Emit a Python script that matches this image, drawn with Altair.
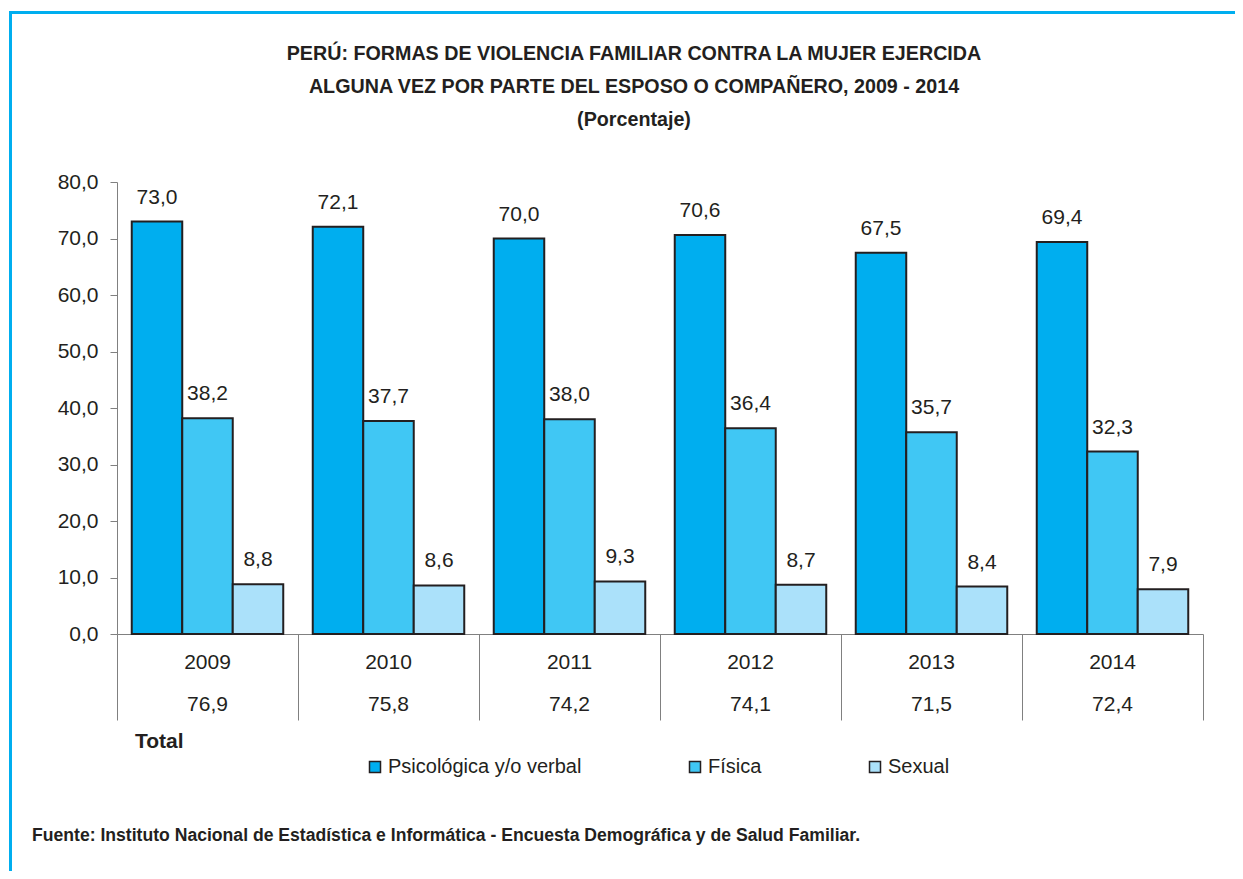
import altair as alt
import pandas as pd

# ---- data ----
years = ["2009", "2010", "2011", "2012", "2013", "2014"]
series = ["Psicológica y/o verbal", "Física", "Sexual"]
psicologica = [73.0, 72.1, 70.0, 70.6, 67.5, 69.4]
fisica = [38.2, 37.7, 38.0, 36.4, 35.7, 32.3]
sexual = [8.8, 8.6, 9.3, 8.7, 8.4, 7.9]
total = [76.9, 75.8, 74.2, 74.1, 71.5, 72.4]
colors = ["#00AEEF", "#40C7F4", "#ABE1FA"]
title_lines = [
    "PERÚ: FORMAS DE VIOLENCIA FAMILIAR CONTRA LA MUJER EJERCIDA",
    "ALGUNA VEZ POR PARTE DEL ESPOSO O COMPAÑERO, 2009 - 2014",
    "(Porcentaje)",
]
fuente = "Fuente: Instituto Nacional de Estadística e Informática - Encuesta Demográfica y de  Salud Familiar."


def fmt(v):
    return f"{v:.1f}".replace(".", ",")


rows = []
for s, vals in zip(series, [psicologica, fisica, sexual]):
    for yr, v in zip(years, vals):
        rows.append({"year": yr, "serie": s, "valor": v, "etiqueta": fmt(v)})
df = pd.DataFrame(rows)
tot = pd.DataFrame({"year": years, "total": [fmt(v) for v in total]})
dummy = pd.DataFrame({"k": [0]})

FONT = "Liberation Sans Narrow, Arial Narrow, Liberation Sans, Arial, sans-serif"
INK = "#231F20"
GRAY = "#808080"
W, H = 1086, 452
FS = 21

xscale = alt.Scale(domain=years, paddingInner=0, paddingOuter=0)
x = alt.X(
    "year:N", scale=xscale, sort=years,
    axis=alt.Axis(title=None, labels=False, tickBand="extent", tickSize=86,
                  tickColor=GRAY, domainColor=GRAY, tickWidth=1, domainWidth=1),
)
xoff = alt.XOffset("serie:N", sort=series,
                   scale=alt.Scale(domain=series, paddingInner=0, paddingOuter=0.292))
y = alt.Y(
    "valor:Q", scale=alt.Scale(domain=[0, 80], nice=False),
    axis=alt.Axis(title=None, values=list(range(0, 81, 10)),
                  labelExpr="replace(format(datum.value, '.1f'), '.', ',')",
                  labelFont=FONT, labelFontSize=FS, labelColor=INK,
                  tickSize=7, tickColor=GRAY, domainColor=GRAY, grid=False,
                  labelPadding=12),
)
color = alt.Color(
    "serie:N", sort=series, scale=alt.Scale(domain=series, range=colors),
    legend=alt.Legend(title=None, orient="none", legendX=248, legendY=575,
                      direction="horizontal", symbolType="square", symbolSize=121,
                      symbolStrokeColor=INK, symbolStrokeWidth=1.5,
                      labelFont=FONT, labelFontSize=20, labelColor=INK,
                      labelLimit=400, columnPadding=103, labelOffset=3, padding=0),
)

bars = alt.Chart(df).mark_bar(stroke=INK, strokeWidth=2).encode(
    x=x, xOffset=xoff, y=y, color=color
)
labels = alt.Chart(df).mark_text(font=FONT, fontSize=FS, dy=-18,
                                 baseline="alphabetic", color=INK).encode(
    x=x, xOffset=xoff, y=y, text="etiqueta:N"
)
years_txt = alt.Chart(tot).mark_text(font=FONT, fontSize=FS, baseline="middle",
                                     color=INK).encode(
    x=x, y=alt.value(481), text="year:N"
)
totals_txt = alt.Chart(tot).mark_text(font=FONT, fontSize=FS, baseline="middle",
                                      color=INK).encode(
    x=x, y=alt.value(523), text="total:N"
)
total_lbl = alt.Chart(dummy).mark_text(text="Total", font=FONT, fontSize=21,
                                       fontWeight="bold", align="left",
                                       baseline="alphabetic", color=INK).encode(
    x=alt.value(18), y=alt.value(566)
)
title_layers = []
for i, line in enumerate(title_lines):
    title_layers.append(
        alt.Chart(dummy).mark_text(text=line, font=FONT, fontSize=19.7,
                                   fontWeight="bold", align="center",
                                   baseline="alphabetic", color=INK).encode(
            x=alt.value(517), y=alt.value(-122 + 33 * i)
        )
    )
fuente_txt = alt.Chart(dummy).mark_text(text=fuente, font=FONT, fontSize=17.6,
                                        fontWeight="bold", align="left",
                                        baseline="alphabetic", color=INK).encode(
    x=alt.value(-85), y=alt.value(659)
)
border_top = alt.Chart(dummy).mark_rule(color="#00AEEF", strokeWidth=3).encode(
    x=alt.value(-108), x2=alt.value(1130), y=alt.value(-169.5)
)
border_left = alt.Chart(dummy).mark_rule(color="#00AEEF", strokeWidth=3).encode(
    x=alt.value(-106.5), y=alt.value(-171), y2=alt.value(700)
)

chart = alt.layer(
    border_top, border_left, bars, labels, years_txt, totals_txt, total_lbl,
    *title_layers, fuente_txt
).properties(
    width=W, height=H,
    autosize=alt.AutoSizeParams(type="none"),
    padding={"left": 109, "top": 174, "right": 32, "bottom": 237},
    background="white",
).configure_view(stroke=None)

chart.save("out.html", embed_options={"renderer": "svg", "actions": False})
